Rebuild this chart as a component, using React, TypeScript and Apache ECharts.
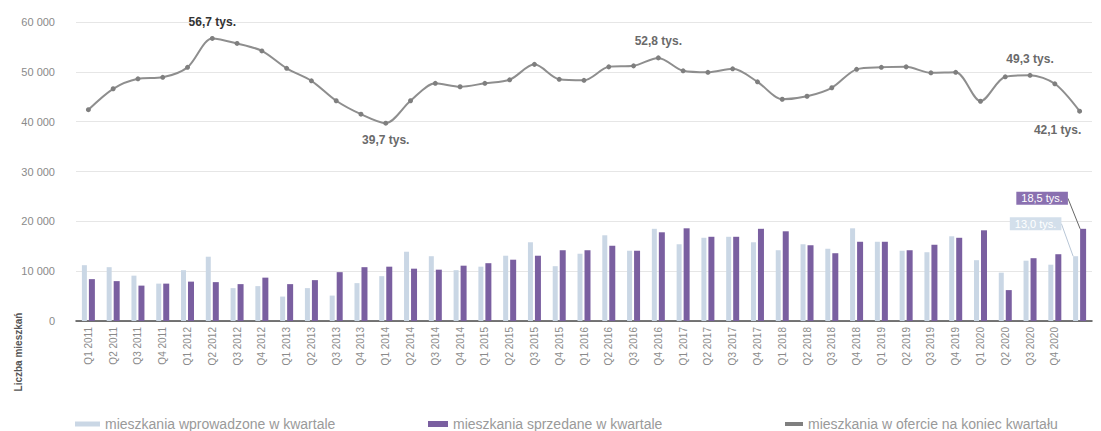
import React, { useEffect, useRef } from "react";
import * as echarts from "echarts";

const quarters = [
  "Q1 2011", "Q2 2011", "Q3 2011", "Q4 2011",
  "Q1 2012", "Q2 2012", "Q3 2012", "Q4 2012",
  "Q1 2013", "Q2 2013", "Q3 2013", "Q4 2013",
  "Q1 2014", "Q2 2014", "Q3 2014", "Q4 2014",
  "Q1 2015", "Q2 2015", "Q3 2015", "Q4 2015",
  "Q1 2016", "Q2 2016", "Q3 2016", "Q4 2016",
  "Q1 2017", "Q2 2017", "Q3 2017", "Q4 2017",
  "Q1 2018", "Q2 2018", "Q3 2018", "Q4 2018",
  "Q1 2019", "Q2 2019", "Q3 2019", "Q4 2019",
  "Q1 2020", "Q2 2020", "Q3 2020", "Q4 2020",
  "",
];

const delivered = [
  11200, 10800, 9100, 7500, 10200, 12900, 6600, 7000, 4900, 6600, 5100,
  7600, 9000, 13900, 13000, 10200, 10900, 13100, 15800, 11000, 13500,
  17200, 14100, 18500, 15400, 16700, 16900, 15800, 14200, 15400, 14500,
  18600, 15900, 14100, 13800, 17000, 12200, 9700, 12100, 11300, 13000,
];

const sold = [
  8400, 8000, 7100, 7500, 7900, 7800, 7400, 8700, 7400, 8200, 9800,
  10800, 10900, 10500, 10300, 11100, 11600, 12300, 13100, 14200, 14200,
  15100, 14100, 17800, 18600, 16900, 16900, 18500, 18000, 15200, 13600,
  15900, 15900, 14200, 15300, 16700, 18200, 6200, 12600, 13400, 18500,
];

const offer = [
  42400, 46600, 48600, 48900, 50900, 56700, 55700, 54200, 50700, 48200,
  44200, 41500, 39700, 44200, 47700, 47000, 47700, 48400, 51500, 48500,
  48300, 51000, 51200, 52800, 50200, 49900, 50600, 48000, 44500, 45100,
  46800, 50500, 50900, 51000, 49800, 49900, 44100, 49000, 49300, 47600,
  42100,
];

const offerNotes = [
  { index: 5, text: "56,7 tys." },
  { index: 12, text: "39,7 tys." },
  { index: 23, text: "52,8 tys." },
  { index: 38, text: "49,3 tys." },
  { index: 40, text: "42,1 tys." },
];

const lastDeliveredNote = "13,0 tys.";
const lastSoldNote = "18,5 tys.";

const seriesNames = [
  "mieszkania wprowadzone w kwartale",
  "mieszkania sprzedane w kwartale",
  "mieszkania w ofercie na koniec kwartału",
];

const yAxisTitle = "Liczba mieszkań";

const LIGHT = "#cad7e5";
const PURPLE = "#7a5fa0";
const GREY = "#8e8e8e";
const FONT = "'Liberation Sans Narrow', 'Liberation Sans', Arial, sans-serif";

export default function App() {
  const ref = useRef<HTMLDivElement>(null);

  useEffect(() => {
    if (!ref.current) return;
    const chart = echarts.init(ref.current, null, { renderer: "svg" });
    const last = quarters.length - 1;

    const belowNotes: Record<number, number[]> = { 12: [0, 0], 40: [-22, 2] };

    const offerData = offer.map((v, i) => {
      const note = offerNotes.find((n) => n.index === i);
      if (!note) return v;
      const below = belowNotes[i];
      return {
        value: v,
        label: {
          show: true,
          formatter: note.text,
          position: below ? "bottom" : "top",
          offset: below || [0, 0],
          distance: 8,
          fontSize: 12,
          fontWeight: "bold",
          fontFamily: FONT,
          color: i === 5 ? "#333" : "#6a6a6a",
        },
      };
    });

    const deliveredData = delivered.map((v, i) =>
      i === last
        ? {
            value: v,
            label: {
              show: true,
              position: "top",
              formatter: lastDeliveredNote,
              backgroundColor: "#d3dfeb",
              color: "#ffffff",
              fontSize: 11,
              fontFamily: FONT,
              padding: [1, 5],
            },
          }
        : v
    );

    const soldData = sold.map((v, i) =>
      i === last
        ? {
            value: v,
            label: {
              show: true,
              position: "top",
              formatter: lastSoldNote,
              backgroundColor: "#8a70b0",
              color: "#ffffff",
              fontSize: 11,
              fontFamily: FONT,
              padding: [1, 5],
            },
          }
        : v
    );

    const legendBase = {
      top: 412,
      icon: "rect",
      textStyle: { fontSize: 14, color: "#9a9a9a", fontFamily: FONT },
      selectedMode: false,
    };

    chart.setOption({
      animation: false,
      textStyle: { fontFamily: FONT },
      grid: { left: 76, right: 9, top: 22, bottom: 110 },
      xAxis: {
        type: "category",
        data: quarters,
        axisLine: { lineStyle: { color: "#4a4a4a", width: 1.5 } },
        axisTick: { show: false },
        axisLabel: {
          rotate: 90,
          interval: 0,
          fontSize: 10,
          color: "#8a8a8a",
          margin: 6,
          fontFamily: FONT,
        },
      },
      yAxis: {
        type: "value",
        min: 0,
        max: 60000,
        interval: 10000,
        axisLine: { show: false },
        axisTick: { show: false },
        axisLabel: {
          color: "#8a8a8a",
          fontSize: 11,
          margin: 21,
          fontFamily: FONT,
          formatter: (v: number) => (v === 0 ? "0" : `${v / 1000} 000`),
        },
        splitLine: { lineStyle: { color: "#e6e6e6" } },
      },
      legend: [
        {
          ...legendBase,
          left: 70,
          data: [seriesNames[0]],
          itemWidth: 25,
          itemHeight: 5,
        },
        {
          ...legendBase,
          left: 423,
          data: [seriesNames[1]],
          itemWidth: 20,
          itemHeight: 6,
        },
        {
          ...legendBase,
          left: 780,
          data: [seriesNames[2]],
          itemWidth: 18,
          itemHeight: 4,
        },
      ],
      graphic: [
        {
          type: "text",
          x: 18,
          y: 352,
          rotation: Math.PI / 2,
          style: {
            text: yAxisTitle,
            fontSize: 10,
            fontWeight: "bold",
            fill: "#555",
            align: "center",
            verticalAlign: "middle",
            fontFamily: FONT,
          },
        },
      ],
      series: [
        {
          name: seriesNames[0],
          type: "bar",
          data: deliveredData,
          barWidth: 5,
          barGap: "40%",
          itemStyle: { color: LIGHT },
          labelLayout: { dx: -40, dy: -21 },
          labelLine: { show: true, lineStyle: { color: "#b8c6d6", width: 1 } },
        },
        {
          name: seriesNames[1],
          type: "bar",
          data: soldData,
          barWidth: 6,
          itemStyle: { color: PURPLE },
          labelLayout: { dx: -41, dy: -19 },
          labelLine: { show: true, lineStyle: { color: "#666", width: 1 } },
        },
        {
          name: seriesNames[2],
          type: "line",
          data: offerData,
          smooth: 0.3,
          symbol: "circle",
          symbolSize: 5,
          lineStyle: { color: GREY, width: 2 },
          itemStyle: { color: "#7f7f7f" },
          z: 5,
        },
      ],
    });

    return () => chart.dispose();
  }, []);

  return (
    <div
      ref={ref}
      style={{ position: "fixed", left: 0, top: 0, width: 1101, height: 431, background: "#fff" }}
    />
  );
}
